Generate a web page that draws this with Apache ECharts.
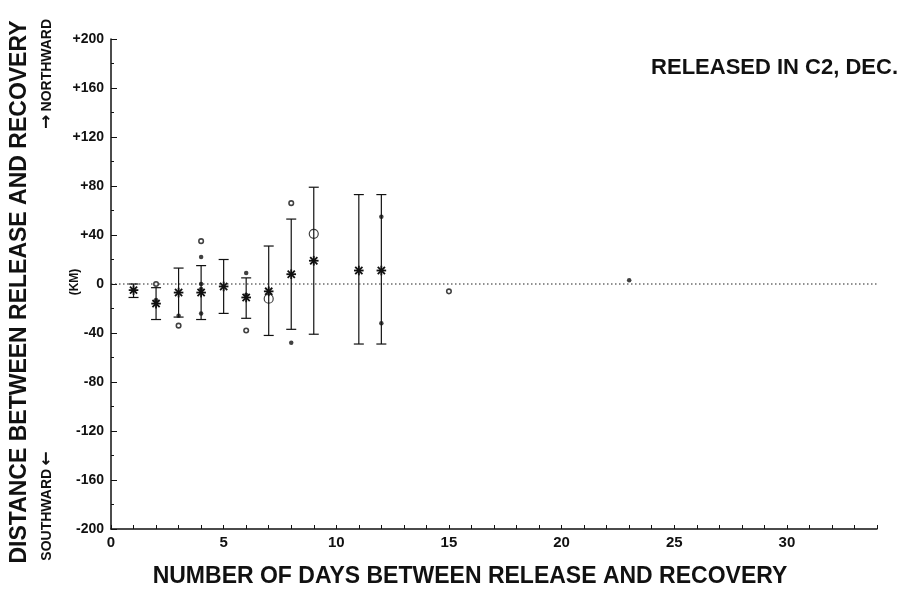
<!DOCTYPE html>
<html>
<head>
<meta charset="utf-8">
<script src="https://cdn.jsdelivr.net/npm/echarts@6/dist/echarts.min.js"></script>
<style>
html,body{margin:0;padding:0;background:#fff;}
#c{width:909px;height:593px;}
</style>
</head>
<body>
<div id="c"></div>
<script>
// Data
const days   = [1, 2, 3, 4, 5, 6, 7, 8, 9, 11, 12];
const means  = [-5, -16, -7, -7, -2, -11, -6, 8, 19, 11, 11];
const lows   = [-11, -29, -27, -29, -24, -28, -42, -37, -41, -49, -49];
const highs  = [0, -3, 13, 15, 20, 5, 31, 53, 79, 73, 73];
const filledPts = [[1,-5],[2,-13],[3,-26],[4,22],[4,0],[4,-4],[4,-24],[6,9],[6,-9],[8,-48],[12,55],[12,-32],[23,3]];
const smallOpenPts = [[2,0],[3,-34],[4,35],[6,-38],[8,66],[15,-6]];
const largeOpenPts = [[7,-12],[9,41]];
const zeroLine = [[0,0],[34,0]];
const xMin = 0, xMax = 34, yMin = -200, yMax = 200;

const FONT = '"Liberation Sans", Arial, Helvetica, sans-serif';
const ARROWFONT = '"DejaVu Sans", sans-serif';
const chart = echarts.init(document.getElementById('c'), null, {renderer:'canvas'});

const barData = days.map((d,i)=>[d, lows[i], highs[i], means[i]]);

chart.setOption({
  animation: false,
  backgroundColor: '#fff',
  grid: {left:111, right:32, top:39, bottom:64, containLabel:false},
  xAxis: {
    type:'value', min:xMin, max:xMax, interval:1,
    axisLine:{show:true, onZero:false, lineStyle:{color:'#111', width:1.5}},
    axisTick:{show:true, inside:true, length:4, lineStyle:{color:'#111', width:1}},
    axisLabel:{show:true, margin:6, color:'#111', fontFamily:FONT, fontWeight:'bold', fontSize:15,
      formatter: v => (v % 5 === 0 ? String(v) : '')},
    splitLine:{show:false}
  },
  yAxis: {
    type:'value', min:yMin, max:yMax, interval:40,
    axisLine:{show:true, onZero:false, lineStyle:{color:'#111', width:1.5}},
    axisTick:{show:true, inside:true, length:6, lineStyle:{color:'#111', width:1}},
    minorTick:{show:true, splitNumber:2, length:3, lineStyle:{color:'#111', width:1}},
    axisLabel:{show:true, margin:7, color:'#111', fontFamily:FONT, fontWeight:'bold', fontSize:14,
      formatter: v => (v > 0 ? '+' + v : String(v))},
    splitLine:{show:false}
  },
  graphic: [
    {type:'text', x:898, y:68, style:{text:'RELEASED IN C2, DEC.', fill:'#111', font:'bold 22px ' + FONT, textAlign:'right', textVerticalAlign:'middle'}},
    {type:'text', x:470, y:577, style:{text:'NUMBER OF DAYS BETWEEN RELEASE AND RECOVERY', fill:'#111', font:'bold 23px ' + FONT, textAlign:'center', textVerticalAlign:'middle'}},
    {type:'text', x:20, y:292, rotation:Math.PI/2, style:{text:'DISTANCE BETWEEN RELEASE AND RECOVERY', fill:'#111', font:'bold 23px ' + FONT, textAlign:'center', textVerticalAlign:'middle'}},
    {type:'text', x:47, y:74, rotation:Math.PI/2, style:{
      text:'{a|\u2192} {b|NORTHWARD}', textAlign:'center', textVerticalAlign:'middle',
      rich:{a:{fill:'#111', font:'bold 17px ' + ARROWFONT}, b:{fill:'#111', font:'bold 14px ' + FONT}}}},
    {type:'text', x:47, y:506, rotation:Math.PI/2, style:{
      text:'{b|SOUTHWARD} {a|\u2190}', textAlign:'center', textVerticalAlign:'middle',
      rich:{a:{fill:'#111', font:'bold 17px ' + ARROWFONT}, b:{fill:'#111', font:'bold 14px ' + FONT}}}},
    {type:'text', x:75, y:282, rotation:Math.PI/2, style:{text:'(KM)', fill:'#111', font:'bold 12px ' + FONT, textAlign:'center', textVerticalAlign:'middle'}}
  ],
  series: [
    {
      type:'line', data:zeroLine, symbol:'none', silent:true,
      lineStyle:{color:'#222', width:1.2, type:[1.5,2.5]}, z:1
    },
    {
      type:'custom', data:barData, encode:{x:0, y:[1,2]}, z:3,
      renderItem: function(params, api){
        const x = api.value(0), lo = api.value(1), hi = api.value(2), m = api.value(3);
        const pLo = api.coord([x, lo]), pHi = api.coord([x, hi]), pM = api.coord([x, m]);
        const cw = 5, r = 4.8, d = r * 0.75;
        const st = {stroke:'#111', lineWidth:1.2};
        const st2 = {stroke:'#111', lineWidth:1.8};
        return {type:'group', children:[
          {type:'line', shape:{x1:pLo[0], y1:pLo[1], x2:pHi[0], y2:pHi[1]}, style:st},
          {type:'line', shape:{x1:pLo[0]-cw, y1:pLo[1], x2:pLo[0]+cw, y2:pLo[1]}, style:st},
          {type:'line', shape:{x1:pHi[0]-cw, y1:pHi[1], x2:pHi[0]+cw, y2:pHi[1]}, style:st},
          {type:'line', shape:{x1:pM[0]-r, y1:pM[1], x2:pM[0]+r, y2:pM[1]}, style:st2},
          {type:'line', shape:{x1:pM[0], y1:pM[1]-r, x2:pM[0], y2:pM[1]+r}, style:st2},
          {type:'line', shape:{x1:pM[0]-d, y1:pM[1]-d, x2:pM[0]+d, y2:pM[1]+d}, style:st2},
          {type:'line', shape:{x1:pM[0]-d, y1:pM[1]+d, x2:pM[0]+d, y2:pM[1]-d}, style:st2}
        ]};
      }
    },
    {
      type:'scatter', data:filledPts, symbol:'circle', symbolSize:4.5, z:4,
      itemStyle:{color:'#111'}
    },
    {
      type:'scatter', data:smallOpenPts, symbol:'circle', symbolSize:4.5, z:4,
      itemStyle:{color:'#fff', borderColor:'#111', borderWidth:1.6}
    },
    {
      type:'scatter', data:largeOpenPts, symbol:'circle', symbolSize:9, z:4,
      itemStyle:{color:'rgba(255,255,255,0)', borderColor:'#111', borderWidth:1.2}
    }
  ]
});
</script>
</body>
</html>
